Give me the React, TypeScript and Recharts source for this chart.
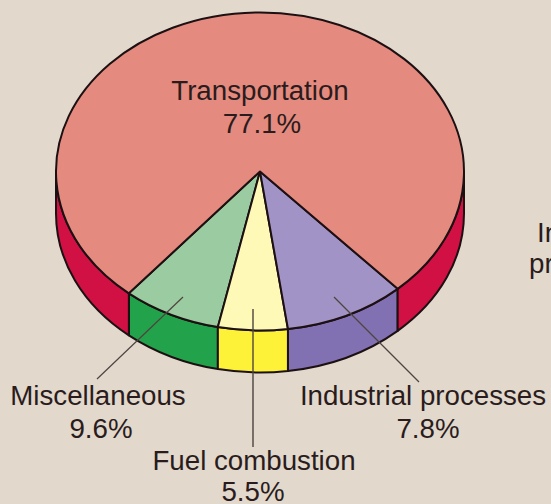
import React from "react";
import { PieChart, Pie } from "recharts";

// Shares that set the size of the wedges as they are drawn in the picture.
const sliceNames = ["Miscellaneous", "Fuel combustion", "Industrial processes", "Transportation"];
const sliceShares = [7.8, 5.5, 9.6, 77.1];
const topColors = ["#9bcba0", "#fff9b8", "#a293c6", "#e58a7f"];
const wallColors = ["#22a24a", "#fdf238", "#8170b2", "#d11044"];

// Printed labels, as they read in the picture.
const miscLabel = ["Miscellaneous", "9.6%"];
const fuelLabel = ["Fuel combustion", "5.5%"];
const industrialLabel = ["Industrial processes", "7.8%"];
const transportLabel = ["Transportation", "77.1%"];
const clippedLabel = ["In", "pr"];

const pieData = sliceNames.map((name, i) => ({
  name,
  value: sliceShares[i],
  fill: topColors[i],
  wall: wallColors[i],
}));

const RATIO = 159 / 204;
const DEPTH = 42;
const INK = "#1c1012";
const FONT = "'Liberation Sans', Arial, sans-serif";
const TEXT = "#2a1c1c";
const LEADER = "#4e4440";
const FONT_SIZE = 27.7;

function Slice(props: any) {
  const { cx, cy, outerRadius: r, startAngle, endAngle, fill, wall } = props;
  const ry = r * RATIO;
  const px = (a: number) => cx + r * Math.cos((a * Math.PI) / 180);
  const py = (a: number) => cy - ry * Math.sin((a * Math.PI) / 180);
  const lo = Math.min(startAngle, endAngle);
  const hi = Math.max(startAngle, endAngle);
  const large = hi - lo > 180 ? 1 : 0;

  const walls: React.ReactNode[] = [];
  [0, 1].forEach((k) => {
    const a = Math.max(lo, 180 + 360 * k);
    const b = Math.min(hi, 360 + 360 * k);
    if (b > a) {
      walls.push(
        <path
          key={k}
          d={`M${px(a)},${py(a)} A${r},${ry} 0 0 0 ${px(b)},${py(b)} L${px(b)},${py(b) + DEPTH} A${r},${ry} 0 0 1 ${px(a)},${py(a) + DEPTH} Z`}
          fill={wall}
          stroke={INK}
          strokeWidth={2}
          strokeLinejoin="round"
        />
      );
    }
  });

  return (
    <g>
      {walls}
      <path
        d={`M${cx},${cy} L${px(lo)},${py(lo)} A${r},${ry} 0 ${large} 0 ${px(hi)},${py(hi)} Z`}
        fill={fill}
        stroke={INK}
        strokeWidth={2}
        strokeLinejoin="round"
      />
    </g>
  );
}

function Label({ x, y, children }: { x: number; y: number; children: string }) {
  return (
    <text x={x} y={y} textAnchor="middle" fontFamily={FONT} fontSize={FONT_SIZE} fill={TEXT}>
      {children}
    </text>
  );
}

export default function App() {
  return (
    <div style={{ position: "fixed", left: 0, top: 0, width: 551, height: 504, background: "#e2d8cc", overflow: "hidden" }}>
      <PieChart width={551} height={504} margin={{ top: 0, right: 0, bottom: 0, left: 0 }}>
        <Pie
          data={pieData}
          dataKey="value"
          nameKey="name"
          cx={260}
          cy={171.5}
          innerRadius={0}
          outerRadius={204}
          startAngle={230}
          endAngle={590}
          stroke="none"
          isAnimationActive={false}
          shape={Slice}
        />
      </PieChart>
      <svg width={551} height={504} style={{ position: "absolute", left: 0, top: 0, pointerEvents: "none" }}>
        <line x1={183} y1={297} x2={97} y2={379} stroke={LEADER} strokeWidth={1.2} />
        <line x1={253} y1={309} x2={253} y2={447} stroke={LEADER} strokeWidth={1.4} />
        <line x1={334} y1={297} x2={419} y2={382} stroke={LEADER} strokeWidth={1.2} />
        <Label x={260} y={100}>{transportLabel[0]}</Label>
        <Label x={262} y={133}>{transportLabel[1]}</Label>
        <Label x={98} y={405}>{miscLabel[0]}</Label>
        <Label x={101} y={438}>{miscLabel[1]}</Label>
        <Label x={423} y={405}>{industrialLabel[0]}</Label>
        <Label x={428} y={438}>{industrialLabel[1]}</Label>
        <Label x={254} y={470}>{fuelLabel[0]}</Label>
        <Label x={253} y={501}>{fuelLabel[1]}</Label>
        <text x={537} y={242} fontFamily={FONT} fontSize={FONT_SIZE} fill={TEXT}>{clippedLabel[0]}</text>
        <text x={529} y={273} fontFamily={FONT} fontSize={FONT_SIZE} fill={TEXT}>{clippedLabel[1]}</text>
      </svg>
    </div>
  );
}
